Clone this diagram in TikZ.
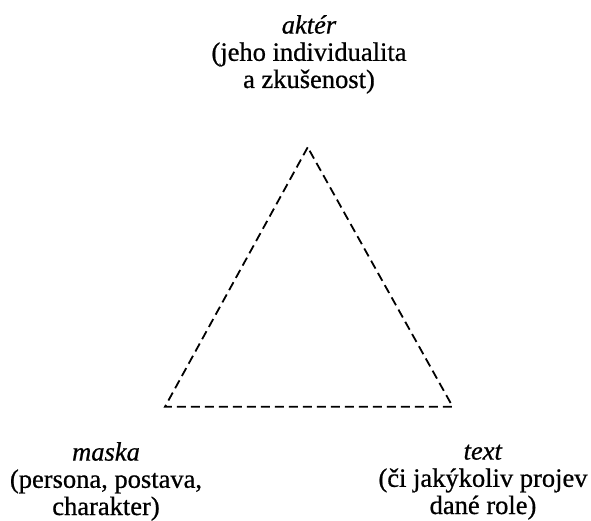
\documentclass[tikz,border=0pt]{standalone}
\usepackage{fontspec}
\setmainfont{Liberation Serif}[RawFeature={embolden=0.7}]
\begin{document}
\begin{tikzpicture}[x=1pt,y=-1pt,
  lbl/.style={align=center,anchor=base,inner sep=0pt,font=\fontsize{26.5}{27.2}\selectfont},
  edge/.style={line width=1.8pt,dash pattern=on 9pt off 5pt}]
\useasboundingbox (0,0) rectangle (591,521);
\coordinate (A) at (307.7,147.3);
\coordinate (B) at (165,406.7);
\coordinate (C) at (452.7,406.7);
\draw[edge] (A) -- (B) -- (C) -- cycle;
\node[lbl] (akt) at (309,88) {\textit{aktér}\\(jeho individualita\\a zkušenost)};
\node[lbl] (mas) at (106,515) {\textit{maska}\\(persona, postava,\\charakter)};
\node[lbl] (txt) at (483,514) {\textit{text}\\(či jakýkoliv projev\\dané role)};
\end{tikzpicture}
\end{document}
